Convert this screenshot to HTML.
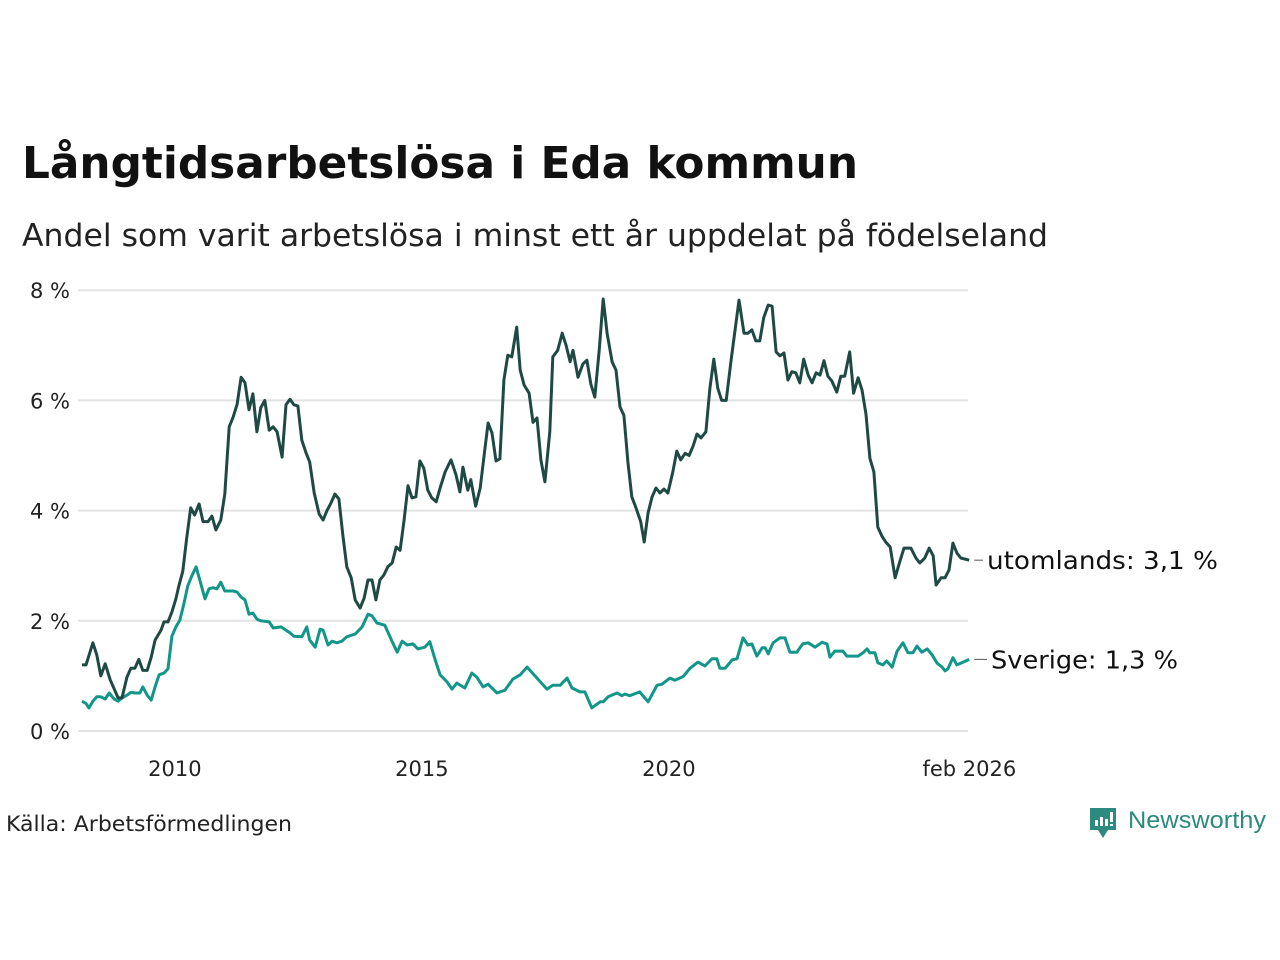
<!DOCTYPE html>
<html><head><meta charset="utf-8">
<style>
html,body{margin:0;padding:0;background:#fff;}
svg{display:block;font-family:"DejaVu Sans","Liberation Sans",sans-serif;}
</style></head>
<body>
<svg id="chart" width="1280" height="960" viewBox="0 0 1280 960" xmlns="http://www.w3.org/2000/svg">
<text x="22" y="178" font-size="44" font-weight="bold" fill="#111" textLength="836" lengthAdjust="spacingAndGlyphs">Långtidsarbetslösa i Eda kommun</text>
<text x="22" y="246" font-size="31" fill="#222" textLength="1026" lengthAdjust="spacingAndGlyphs">Andel som varit arbetslösa i minst ett år uppdelat på födelseland</text>
<g id="grid"></g>
<g id="xaxis"></g>
<g id="series"></g>
<text x="6" y="831" font-size="21" fill="#222" textLength="286" lengthAdjust="spacingAndGlyphs">Källa: Arbetsförmedlingen</text>
<g>
<path d="M1090 808 h26 v22 h-8 l-5 8 l-5 -8 h-8 z" fill="#2d8a7e"/>
<rect x="1095" y="820" width="3" height="6" fill="#fff"/>
<rect x="1100" y="817" width="3" height="9" fill="#fff"/>
<rect x="1105" y="819" width="3" height="7" fill="#fff"/>
<rect x="1110" y="812" width="3" height="10" fill="#fff"/>
<rect x="1110" y="824" width="3" height="2" fill="#fff"/>
<text x="1128" y="828" font-size="24" fill="#2d8a7e" font-family="Liberation Sans, sans-serif" textLength="138" lengthAdjust="spacingAndGlyphs">Newsworthy</text>
</g>
</svg>
<script>
const yTicks = [0, 2, 4, 6, 8];
const yTickLabels = ["0 %", "2 %", "4 %", "6 %", "8 %"];
const xTicks = [2010, 2015, 2020, 2026.083];
const xTickLabels = ["2010", "2015", "2020", "feb 2026"];
const abroadDates = [2008.12,2008.20,2008.34,2008.42,2008.50,2008.59,2008.69,2008.85,2008.93,2009.03,2009.11,2009.19,2009.27,2009.35,2009.44,2009.52,2009.60,2009.72,2009.78,2009.86,2009.94,2010.02,2010.08,2010.16,2010.24,2010.32,2010.40,2010.49,2010.57,2010.67,2010.75,2010.83,2010.93,2011.01,2011.10,2011.18,2011.26,2011.34,2011.42,2011.50,2011.58,2011.66,2011.74,2011.82,2011.91,2011.99,2012.07,2012.17,2012.25,2012.33,2012.41,2012.49,2012.57,2012.65,2012.73,2012.82,2012.92,2013.00,2013.08,2013.16,2013.24,2013.32,2013.40,2013.48,2013.57,2013.65,2013.75,2013.83,2013.91,2013.99,2014.07,2014.15,2014.23,2014.31,2014.40,2014.48,2014.56,2014.64,2014.72,2014.80,2014.88,2014.96,2015.04,2015.12,2015.20,2015.29,2015.37,2015.47,2015.59,2015.69,2015.77,2015.83,2015.93,2015.99,2016.09,2016.18,2016.26,2016.34,2016.42,2016.50,2016.58,2016.66,2016.74,2016.82,2016.92,2016.99,2017.07,2017.17,2017.25,2017.33,2017.41,2017.49,2017.59,2017.65,2017.75,2017.84,2017.92,2018.00,2018.06,2018.16,2018.26,2018.34,2018.42,2018.50,2018.59,2018.67,2018.75,2018.85,2018.93,2019.01,2019.09,2019.17,2019.25,2019.33,2019.43,2019.50,2019.58,2019.66,2019.74,2019.82,2019.90,2019.98,2020.08,2020.16,2020.24,2020.33,2020.41,2020.49,2020.57,2020.65,2020.75,2020.83,2020.91,2020.99,2021.07,2021.16,2021.26,2021.42,2021.52,2021.60,2021.68,2021.76,2021.84,2021.92,2022.01,2022.09,2022.17,2022.25,2022.33,2022.41,2022.49,2022.57,2022.65,2022.73,2022.82,2022.90,2022.98,2023.06,2023.14,2023.22,2023.30,2023.40,2023.48,2023.56,2023.66,2023.74,2023.83,2023.91,2023.99,2024.07,2024.15,2024.23,2024.31,2024.39,2024.48,2024.58,2024.66,2024.76,2024.90,2025.00,2025.08,2025.18,2025.27,2025.35,2025.41,2025.51,2025.59,2025.67,2025.75,2025.83,2025.91,2026.08];
const abroadValues = [1.2,1.2,1.6,1.38,1.0,1.22,0.93,0.6,0.6,0.98,1.14,1.14,1.3,1.1,1.1,1.34,1.65,1.83,1.98,1.98,2.16,2.4,2.63,2.9,3.5,4.05,3.92,4.12,3.8,3.8,3.9,3.65,3.83,4.3,5.52,5.7,5.93,6.42,6.32,5.83,6.12,5.43,5.87,6.0,5.46,5.52,5.43,4.97,5.92,6.02,5.92,5.9,5.28,5.06,4.88,4.32,3.94,3.83,4.0,4.14,4.3,4.21,3.56,2.98,2.78,2.38,2.23,2.41,2.74,2.74,2.38,2.74,2.83,2.98,3.05,3.34,3.28,3.83,4.45,4.23,4.25,4.9,4.77,4.37,4.23,4.16,4.41,4.7,4.92,4.65,4.34,4.79,4.37,4.56,4.08,4.41,5.0,5.59,5.41,4.9,4.94,6.37,6.82,6.79,7.33,6.55,6.28,6.13,5.6,5.68,4.92,4.52,5.43,6.79,6.91,7.22,7.0,6.7,6.91,6.42,6.66,6.73,6.3,6.06,6.91,7.84,7.22,6.7,6.55,5.88,5.73,4.88,4.25,4.06,3.8,3.43,3.96,4.25,4.41,4.32,4.39,4.32,4.7,5.08,4.92,5.04,5.0,5.17,5.39,5.32,5.43,6.22,6.75,6.22,6.0,6.0,6.73,7.82,7.22,7.22,7.28,7.08,7.08,7.5,7.73,7.71,6.88,6.81,6.86,6.37,6.52,6.5,6.32,6.75,6.46,6.32,6.5,6.46,6.72,6.44,6.35,6.15,6.44,6.44,6.88,6.13,6.41,6.19,5.75,4.95,4.7,3.7,3.54,3.43,3.34,2.78,3.03,3.32,3.32,3.14,3.05,3.14,3.32,3.18,2.65,2.78,2.78,2.92,3.41,3.23,3.14,3.1];
const swedenDates = [2008.12,2008.20,2008.26,2008.34,2008.42,2008.50,2008.59,2008.67,2008.77,2008.85,2008.93,2009.03,2009.11,2009.19,2009.29,2009.35,2009.44,2009.52,2009.60,2009.68,2009.78,2009.86,2009.94,2010.02,2010.10,2010.18,2010.26,2010.34,2010.43,2010.51,2010.61,2010.69,2010.77,2010.85,2010.93,2011.01,2011.18,2011.26,2011.34,2011.42,2011.50,2011.58,2011.66,2011.74,2011.91,2011.99,2012.15,2012.25,2012.33,2012.41,2012.57,2012.67,2012.73,2012.84,2012.94,2013.00,2013.10,2013.18,2013.28,2013.38,2013.48,2013.65,2013.79,2013.91,2013.99,2014.09,2014.25,2014.40,2014.50,2014.60,2014.70,2014.82,2014.92,2015.06,2015.16,2015.27,2015.37,2015.51,2015.61,2015.71,2015.87,2016.01,2016.11,2016.24,2016.34,2016.52,2016.68,2016.84,2016.99,2017.13,2017.33,2017.53,2017.65,2017.80,2017.94,2018.04,2018.20,2018.30,2018.44,2018.61,2018.67,2018.77,2018.95,2019.05,2019.11,2019.21,2019.41,2019.58,2019.76,2019.86,2020.02,2020.12,2020.29,2020.43,2020.59,2020.73,2020.87,2020.97,2021.03,2021.14,2021.28,2021.38,2021.50,2021.60,2021.68,2021.78,2021.89,2021.95,2022.01,2022.11,2022.25,2022.35,2022.45,2022.59,2022.71,2022.82,2022.96,2023.10,2023.20,2023.26,2023.36,2023.52,2023.60,2023.83,2023.93,2024.01,2024.07,2024.17,2024.23,2024.33,2024.41,2024.52,2024.62,2024.74,2024.84,2024.94,2025.02,2025.12,2025.23,2025.33,2025.43,2025.53,2025.59,2025.65,2025.75,2025.83,2025.93,2026.08];
const swedenValues = [0.54,0.5,0.42,0.54,0.62,0.62,0.58,0.69,0.58,0.54,0.6,0.65,0.7,0.69,0.69,0.8,0.65,0.56,0.8,1.02,1.05,1.13,1.72,1.89,2.01,2.3,2.63,2.81,2.98,2.72,2.4,2.58,2.6,2.58,2.7,2.54,2.54,2.52,2.43,2.38,2.12,2.14,2.03,2.0,1.98,1.87,1.89,1.83,1.78,1.72,1.71,1.89,1.65,1.52,1.85,1.83,1.56,1.63,1.60,1.63,1.71,1.76,1.89,2.12,2.09,1.96,1.92,1.62,1.43,1.63,1.56,1.58,1.49,1.52,1.62,1.29,1.02,0.89,0.76,0.87,0.78,1.05,0.98,0.80,0.85,0.69,0.74,0.94,1.02,1.16,0.96,0.76,0.83,0.83,0.96,0.78,0.71,0.71,0.42,0.53,0.53,0.62,0.69,0.64,0.67,0.64,0.71,0.53,0.83,0.85,0.96,0.92,0.99,1.14,1.25,1.18,1.31,1.31,1.14,1.14,1.29,1.31,1.69,1.56,1.58,1.36,1.51,1.51,1.40,1.60,1.69,1.69,1.43,1.43,1.58,1.60,1.52,1.61,1.58,1.34,1.45,1.45,1.36,1.36,1.42,1.49,1.42,1.42,1.24,1.20,1.27,1.16,1.45,1.60,1.42,1.42,1.54,1.43,1.49,1.38,1.23,1.16,1.09,1.13,1.33,1.20,1.24,1.3];
const seriesNames = ["utomlands", "Sverige"];

const NS = "http://www.w3.org/2000/svg";
const X0 = 82, XPX = 49.4, XREF = 2008.12;
function xs(d){ return X0 + (d - XREF) * XPX; }
function ys(v){ return 731 - v * 55.1; }
function mk(tag, attrs, parent){ const e = document.createElementNS(NS, tag); for (const k in attrs) e.setAttribute(k, attrs[k]); parent.appendChild(e); return e; }

const grid = document.getElementById('grid');
yTicks.forEach((t, i) => {
  const ln = mk('line', {x1: 78, x2: 968, y1: ys(t), y2: ys(t), stroke: '#e2e2e4', 'stroke-width': 2}, grid);
  
  
  const tx = mk('text', {x: 70, y: ys(t) + 8, 'text-anchor': 'end', 'font-size': 21, fill: '#222'}, grid);
  tx.textContent = yTickLabels[i];
  
  
});
const xa = document.getElementById('xaxis');
xTicks.forEach((t, i) => {
  const tx = mk('text', {x: xs(t), y: 776, 'text-anchor': 'middle', 'font-size': 21, fill: '#222'}, xa);
  tx.textContent = xTickLabels[i];
  
  
});

const sg = document.getElementById('series');
function drawLine(dates, vals, color, name, label, labelX, labelW){
  const d = dates.map((dt, i) => (i ? 'L' : 'M') + xs(dt).toFixed(1) + ' ' + ys(vals[i]).toFixed(1)).join(' ');
  const p = mk('path', {d: d, fill: 'none', stroke: color, 'stroke-width': 3, 'stroke-linejoin': 'round'}, sg);
  
  
  const last = vals[vals.length - 1];
  const ly = ys(last);
  const lastX = xs(dates[dates.length - 1]);
  const dash = mk('line', {x1: lastX + 5, x2: labelX - 4, y1: ly, y2: ly, stroke: '#555', 'stroke-width': 1}, sg);
  
  
  const t = mk('text', {x: labelX, y: ly + 9, 'font-size': 25, fill: '#111', textLength: labelW, lengthAdjust: 'spacingAndGlyphs'}, sg);
  t.textContent = label + ': ' + last.toFixed(1).replace('.', ',') + ' %';
  
  
}
drawLine(swedenDates, swedenValues, '#13968a', 'sverige', seriesNames[1], 991, 187);
drawLine(abroadDates, abroadValues, '#1f4a44', 'utomlands', seriesNames[0], 987, 231);
</script>
</body></html>
